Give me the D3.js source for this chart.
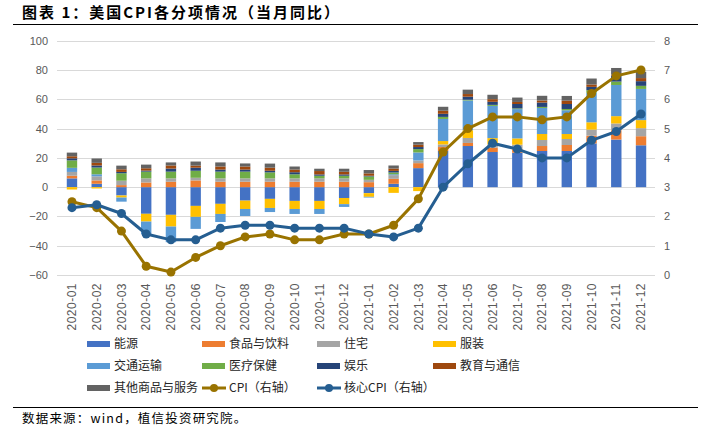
<!DOCTYPE html>
<html><head><meta charset="utf-8">
<script src="https://cdn.jsdelivr.net/npm/d3@7"></script>
<style>
body{margin:0;background:#fff;}
svg{display:block;}
</style></head>
<body>
<svg id="chart" width="711" height="431"></svg>
<script>
const months = ["2020-01","2020-02","2020-03","2020-04","2020-05","2020-06","2020-07","2020-08","2020-09","2020-10","2020-11","2020-12","2021-01","2021-02","2021-03","2021-04","2021-05","2021-06","2021-07","2021-08","2021-09","2021-10","2021-11","2021-12"];
const energy    = [6.0, 2.3, -5.7, -18.2, -18.9, -12.8, -11.4, -9.2, -8.0, -9.4, -9.4, -7.4, -4.1, 2.3, 13.0, 24.7, 28.1, 24.0, 23.5, 24.7, 24.7, 29.9, 32.5, 28.6];
const food      = [1.8, 2.3, 1.4, 3.2, 3.7, 4.6, 3.7, 3.7, 3.7, 3.7, 3.7, 3.7, 3.4, 3.4, 3.4, 2.7, 2.1, 3.0, 2.5, 3.4, 4.1, 5.3, 6.4, 6.2];
const housing   = [2.6, 2.8, 3.0, 2.8, 2.3, 1.8, 2.3, 2.3, 2.3, 2.3, 2.3, 2.3, 1.6, 2.5, 1.8, 1.8, 3.4, 2.3, 3.0, 4.1, 4.1, 4.1, 4.6, 5.5];
const apparel   = [-1.6, -0.9, -1.4, -5.3, -8.0, -7.5, -6.9, -5.7, -6.2, -5.5, -5.5, -4.2, -2.5, -3.9, -2.7, 2.3, 5.3, 4.2, 4.3, 4.1, 3.4, 5.0, 5.0, 5.5];
const transport = [2.8, 1.4, -2.8, -8.7, -10.7, -8.2, -5.5, -4.8, -2.8, -3.4, -3.4, -1.9, -0.5, 0.6, 5.5, 15.1, 20.3, 22.0, 20.0, 17.8, 16.2, 20.1, 21.3, 21.3];
const medical   = [5.1, 4.6, 5.1, 4.6, 4.6, 4.8, 4.6, 4.6, 4.1, 2.8, 1.8, 1.8, 2.3, 1.2, 2.3, 1.4, 0.5, 0.7, 0.5, 0.7, 0.9, 1.8, 2.3, 2.1];
const recreation= [1.4, 1.4, 0.9, 0.7, 2.1, 2.1, 1.4, 1.4, 1.1, 1.4, 0.9, 0.9, 0.5, 1.1, 1.4, 2.1, 2.1, 2.1, 3.0, 3.0, 3.4, 2.3, 4.1, 3.2];
const education = [1.4, 1.8, 1.8, 1.6, 2.1, 1.4, 2.1, 2.1, 2.1, 1.8, 2.3, 1.8, 1.6, 1.6, 1.6, 2.1, 1.8, 1.8, 1.4, 1.4, 2.3, 1.6, 0.6, 2.1];
const other     = [2.5, 3.0, 2.5, 2.5, 2.1, 2.8, 2.8, 2.1, 2.8, 2.1, 1.6, 2.1, 2.3, 2.1, 1.8, 2.7, 3.0, 3.0, 3.0, 3.2, 3.2, 4.1, 4.6, 4.3];
const cpi       = [2.5, 2.3, 1.5, 0.3, 0.1, 0.6, 1.0, 1.3, 1.4, 1.2, 1.2, 1.4, 1.4, 1.7, 2.6, 4.2, 5.0, 5.4, 5.4, 5.3, 5.4, 6.2, 6.8, 7.0];
const coreCpi   = [2.3, 2.4, 2.1, 1.4, 1.2, 1.2, 1.6, 1.7, 1.7, 1.6, 1.6, 1.6, 1.4, 1.3, 1.6, 3.0, 3.8, 4.5, 4.3, 4.0, 4.0, 4.6, 4.9, 5.5];
const leftTicks  = [-60, -40, -20, 0, 20, 40, 60, 80, 100];
const rightTicks = [0, 1, 2, 3, 4, 5, 6, 7, 8];

const seriesNames = ["能源","食品与饮料","住宅","服装","交通运输","医疗保健","娱乐","教育与通信","其他商品与服务"];
const seriesData  = [energy, food, housing, apparel, transport, medical, recreation, education, other];
const colors = ["#4472C4","#ED7D31","#A5A5A5","#FFC000","#5B9BD5","#70AD47","#264478","#9E480E","#636363"];
const cpiColor = "#997300", coreColor = "#255E91";

const table = months.map((m, i) => {
  const row = {month: m};
  seriesNames.forEach((k, j) => row[k] = seriesData[j][i]);
  return row;
});

const svg = d3.select("#chart");
const cjk = "'Noto Sans CJK SC', 'Noto Sans', sans-serif";
const latin = "'Liberation Sans', Arial, sans-serif";

// Title
svg.append("text").attr("x", 22).attr("y", 18)
  .attr("font-family", cjk).attr("font-weight", "bold").attr("font-size", 15).attr("letter-spacing", 2)
  .attr("fill", "#000").text("图表 1：美国CPI各分项情况（当月同比）");
svg.append("line").attr("x1", 13).attr("x2", 698).attr("y1", 24.5).attr("y2", 24.5)
  .attr("stroke", "#000").attr("stroke-width", 1.2);

const x = d3.scaleBand().domain(months).range([59.6, 653.4]).paddingInner(0.58).paddingOuter(0.29);
const yL = d3.scaleLinear().domain([-60, 100]).range([275, 40.75]);
const yR = d3.scaleLinear().domain([0, 8]).range([275, 40.75]);

// gridlines
svg.append("g").selectAll("line").data(leftTicks).join("line")
  .attr("x1", 57).attr("x2", 655)
  .attr("y1", d => Math.round(yL(d)) + 0.5).attr("y2", d => Math.round(yL(d)) + 0.5)
  .attr("stroke", "#d9d9d9").attr("stroke-width", 1);

// left axis
const axL = svg.append("g").attr("transform", "translate(52,0)")
  .call(d3.axisLeft(yL).tickValues(leftTicks).tickSize(0).tickPadding(4).tickFormat(d => d < 0 ? "−" + Math.abs(d) : d));
axL.select(".domain").remove();
axL.selectAll("text").attr("font-family", latin).attr("font-size", 11).attr("fill", "#595959");

// right axis
const axR = svg.append("g").attr("transform", "translate(660,0)")
  .call(d3.axisRight(yR).tickValues(rightTicks).tickSize(0).tickPadding(4));
axR.select(".domain").remove();
axR.selectAll("text").attr("font-family", latin).attr("font-size", 11).attr("fill", "#595959");

// x axis labels (rotated)
const axX = svg.append("g").attr("transform", "translate(0,278)")
  .call(d3.axisBottom(x).tickSize(0).tickPadding(0));
axX.select(".domain").remove();
axX.selectAll("text")
  .attr("font-family", latin).attr("font-size", 12).attr("letter-spacing", 0.5).attr("fill", "#595959")
  .attr("text-anchor", "end").attr("dy", "0.35em")
  .attr("transform", "translate(0,5) rotate(-90)");

// stacked bars
const stack = d3.stack().keys(seriesNames).order(d3.stackOrderNone).offset(d3.stackOffsetDiverging);
const stacked = stack(table);
svg.append("g").selectAll("g").data(stacked).join("g")
  .attr("fill", (d, i) => colors[i])
  .selectAll("rect").data(d => d).join("rect")
  .attr("x", d => x(d.data.month))
  .attr("width", x.bandwidth())
  .attr("y", d => yL(Math.max(d[0], d[1])))
  .attr("height", d => Math.abs(yL(d[0]) - yL(d[1])));

// lines
function drawLine(vals, color) {
  const line = d3.line().x((d, i) => x(months[i]) + x.bandwidth() / 2).y(d => yR(d));
  svg.append("path").datum(vals).attr("d", line)
    .attr("fill", "none").attr("stroke", color).attr("stroke-width", 3).attr("stroke-linejoin", "round");
  svg.append("g").selectAll("circle").data(vals).join("circle")
    .attr("cx", (d, i) => x(months[i]) + x.bandwidth() / 2).attr("cy", d => yR(d))
    .attr("r", 4.5).attr("fill", color);
}
drawLine(cpi, cpiColor);
drawLine(coreCpi, coreColor);

// legend
const legendItems = [
  {name: "能源", type: "bar", color: colors[0], col: 0, row: 0},
  {name: "食品与饮料", type: "bar", color: colors[1], col: 1, row: 0},
  {name: "住宅", type: "bar", color: colors[2], col: 2, row: 0},
  {name: "服装", type: "bar", color: colors[3], col: 3, row: 0},
  {name: "交通运输", type: "bar", color: colors[4], col: 0, row: 1},
  {name: "医疗保健", type: "bar", color: colors[5], col: 1, row: 1},
  {name: "娱乐", type: "bar", color: colors[6], col: 2, row: 1},
  {name: "教育与通信", type: "bar", color: colors[7], col: 3, row: 1},
  {name: "其他商品与服务", type: "bar", color: colors[8], col: 0, row: 2},
  {name: "CPI（右轴）", type: "line", color: cpiColor, col: 1, row: 2},
  {name: "核心CPI（右轴）", type: "line", color: coreColor, col: 2, row: 2}
];
const colX = [87, 202, 317, 433];
const rowY = [344, 366, 388];
const lg = svg.append("g");
legendItems.forEach(it => {
  const gx = colX[it.col], gy = rowY[it.row];
  if (it.type === "bar") {
    lg.append("rect").attr("x", gx).attr("y", gy - 3).attr("width", 23).attr("height", 6).attr("fill", it.color);
  } else {
    lg.append("line").attr("x1", gx).attr("x2", gx + 24).attr("y1", gy).attr("y2", gy)
      .attr("stroke", it.color).attr("stroke-width", 3);
    lg.append("circle").attr("cx", gx + 12).attr("cy", gy).attr("r", 4).attr("fill", it.color);
  }
  lg.append("text").attr("x", gx + 27).attr("y", gy).attr("dy", "0.36em")
    .attr("font-family", cjk).attr("font-size", 12).attr("fill", "#262626").text(it.name);
});

// footer
svg.append("line").attr("x1", 13).attr("x2", 698).attr("y1", 407.5).attr("y2", 407.5)
  .attr("stroke", "#000").attr("stroke-width", 1.2);
svg.append("text").attr("x", 22).attr("y", 423)
  .attr("font-family", cjk).attr("font-size", 12.5).attr("letter-spacing", 1.2)
  .attr("fill", "#000").text("数据来源：wind，植信投资研究院。");
</script>
</body></html>
